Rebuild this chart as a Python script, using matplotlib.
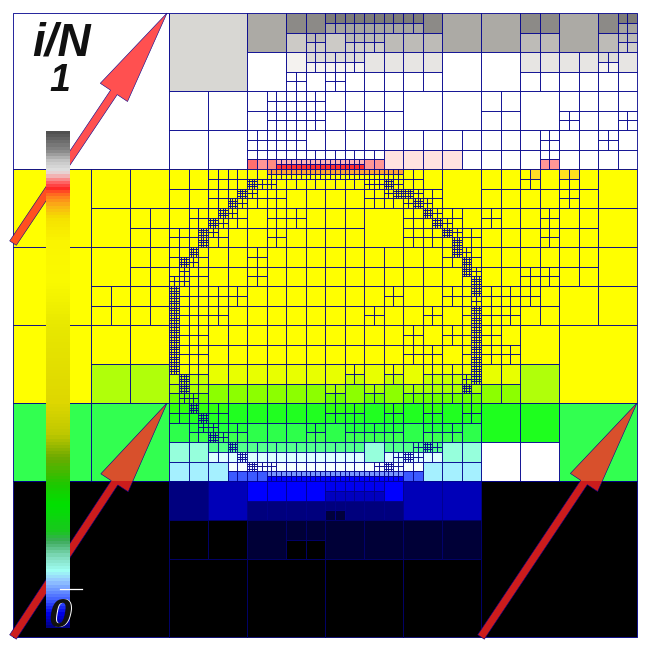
import matplotlib
matplotlib.use("Agg")
import matplotlib.pyplot as plt
from matplotlib.collections import PatchCollection
from matplotlib.colors import LinearSegmentedColormap
from matplotlib.patches import FancyArrow, Rectangle
import numpy as np

# leaf size of the mesh on a 32x32 grid
# A=1/4 of domain, B=1/8, C=1/16, D=1/32, E=1/64 (ring cells go finer)
mesh = [
    "AAAAAAAABBBBCCDDEEEEEDCCCCDDCCDE",
    "AAAAAAAABBBBCCDEDEEDDDCCCCDDCCDE",
    "AAAAAAAABBBBCCDEEEDDDDCCCCDDDDED",
    "AAAAAAAABBBBCCEDEDDDDDCCCCDDDDDD",
    "AAAAAAAACCCCDEEEDDDDCCCCDDCCDDDD",
    "AAAAAAAACCCCDEEEDDDDCCCCDDCCEDDE",
    "AAAAAAAACCCCEEEDDDDDDDDDDDDEDDED",
    "AAAAAAAACCCCEEEEEEEDDDDDDDDEDDDD",
    "BBBBCCCCDDEEEEEEEEEEEDCCDDEDEDCC",
    "BBBBCCCCDDEEEEDDDDEEEECCDDDDEDCC",
    "BBBBCCDDDEEEDEEDDDCCEEEDEDDEDDCC",
    "BBBBCCDDEEEDDEDDDDCCEEEEDDDEDDCC",
    "BBBBCCDDEEDDEDDDDDDDDDEEDDDDDDCC",
    "BBBBCCDDEEDDEDDDDDDDDDDEDDEEDDCC",
    "BBBBDDDDEEEEDDDDDDDEDDEEEEEDCCCC",
    "BBBBDDDDEEEDDDDDDDEDDEDEEEDDCCCC",
    "BBBBCCCCEEDDDDDDDDDDEDEEEDCCBBBB",
    "BBBBCCCCEEDDDDDDDDDDEEDEEECCBBBB",
    "BBBBCCCCEEDDDDDDDEDEDEEEDDCCBBBB",
    "BBBBCCCCEEDDDDDDEDEDEEEEDDCCBBBB",
    "BBBBBBBBEEEDDDDDEEDEDEDECCCCBBBB",
    "BBBBBBBBDEEEDDDEDEEEDEEDCCCCBBBB",
    "BBBBBBBBDDEEEEEEEEDEEEDDCCCCBBBB",
    "BBBBBBBBDDDEEEEEEEEEEDDDCCCCBBBB",
    "AAAAAAAACCCCDDDDEEEDCCCCAAAAAAAA",
    "AAAAAAAACCCCDDDDEDDDCCCCAAAAAAAA",
    "AAAAAAAACCCCCCDDCCCCCCCCAAAAAAAA",
    "AAAAAAAACCCCCCDDCCCCCCCCAAAAAAAA",
    "AAAAAAAABBBBBBBBBBBBBBBBAAAAAAAA",
    "AAAAAAAABBBBBBBBBBBBBBBBAAAAAAAA",
    "AAAAAAAABBBBBBBBBBBBBBBBAAAAAAAA",
    "AAAAAAAABBBBBBBBBBBBBBBBAAAAAAAA",
]

# 1/64 cells around the interface that are split again: row, first col, last col
ring_row = [15, 16, 17, 17, 18, 18, 19, 19, 20, 20, 21, 21, 22, 22, 23, 23, 24, 24, 25, 25,
            26, 26, 27, 27, 28, 28, 29, 29, 30, 30, 31, 31, 32, 32, 33, 33, 34, 34, 35, 35,
            36, 36, 37, 37, 38, 38, 39, 40, 41, 42, 43, 44, 44, 45, 45, 46, 46, 47]
ring_from = [27, 26, 24, 36, 23, 38, 22, 40, 21, 42, 20, 43, 19, 44, 19, 45, 18, 45, 17, 46,
             17, 46, 16, 47, 16, 47, 16, 47, 16, 47, 16, 47, 16, 47, 16, 47, 16, 47, 16, 47,
             16, 47, 17, 46, 17, 46, 17, 18, 19, 19, 20, 22, 41, 23, 39, 24, 37, 26]
ring_to = [35, 39, 26, 39, 24, 41, 23, 42, 22, 43, 21, 44, 20, 45, 19, 45, 18, 46, 18, 46,
           17, 47, 17, 47, 16, 47, 16, 47, 16, 47, 16, 47, 16, 47, 16, 47, 16, 47, 16, 47,
           16, 47, 17, 47, 17, 46, 18, 18, 19, 20, 21, 22, 43, 23, 41, 26, 39, 39]

# ring cells that reach the finest level: col, row
finest_col = [16, 16, 16, 16, 16, 16, 16, 16, 16, 47, 47, 47, 47, 47, 47, 47, 47, 22, 20, 19, 18, 40, 44, 46, 47, 47,
              24, 23, 21, 19, 17, 17, 17, 18, 19, 20, 22, 23, 24, 38, 39, 41, 42, 43, 45, 45, 46, 46, 42, 40, 38]
finest_row = [28, 29, 30, 32, 33, 34, 35, 36, 31, 30, 31, 32, 33, 34, 35, 36, 37, 19, 21, 23, 24, 18, 22, 25, 27, 28,
              17, 18, 20, 22, 25, 37, 38, 40, 41, 43, 44, 45, 46, 17, 18, 19, 20, 21, 23, 24, 26, 38, 44, 45, 46]

# colour of a cell by its size and row
row_l2 = ["#ffffff", "#ffff00", "#ffff00", "#000000"]
row_l3 = ["#d8d7d3", "#ffffff", "#ffff00", "#ffff00", "#ffff00", "#32ff50", "#000000", "#000000"]
row_l4 = ["#acaaa5", "#ffffff", "#ffffff", "#ffffff", "#ffff00", "#ffff00", "#ffff00", "#ffff00",
          "#ffff00", "#b0ff0a", "#1eff1e", "#ffffff", "#0000b8", "#000037", "#000000", "#000000"]
row_l5 = ["#8c8a87", "#bdbbb7", "#e7e5e3", "#ffffff", "#ffffff", "#ffffff", "#ffffff", "#ffe2e0",
          "#ffff00", "#ffff00", "#ffff00", "#ffff00", "#ffff00", "#ffff00", "#ffff00", "#ffff00",
          "#ffff00", "#ffff00", "#e8ff00", "#8cff00", "#20ff20", "#2dff4b", "#96ffdc", "#a5f0ff",
          "#0000ff", "#00007d", "#000037", "#000000", "#000000", "#000000", "#000000", "#000000"]
row_l6 = ["#7d7b78", "#a6a4a0", "#bcbab6", "#cfcdc9", "#dedcd9", "#f5f3f0", "#ffffff", "#ffffff",
          "#ffffff", "#ffffff", "#ffffff", "#ffffff", "#ffffff", "#ffffff", "#ffffff", "#ff9696",
          "#ffff00", "#ffff00", "#ffff00", "#ffff00", "#ffff00", "#ffff00", "#ffff00", "#ffff00",
          "#ffff00", "#ffff00", "#ffff00", "#ffff00", "#ffff00", "#ffff00", "#ffff00", "#ffff00",
          "#ffff00", "#ffff00", "#ffff00", "#ffff00", "#f0ff00", "#c8ff00", "#aaff00", "#6eff00",
          "#32ff0f", "#23ff23", "#23ff3c", "#3cff50", "#55ff8c", "#dcffff", "#f5ffff", "#3c5aff",
          "#0000f0", "#0000c0", "#00007d", "#00007d", "#000037", "#000037", "#000000", "#000000",
          "#000000", "#000000", "#000000", "#000000", "#000000", "#000000", "#000000", "#000000"]
# half rows of the thin top and bottom bands of the ring
row_l7 = {30: "#ffb4b4", 31: "#ff3232", 32: "#ffa532", 94: "#7896ff", 95: "#0000ff"}

# single cells that differ from their row: (size letter, col, row)
cell_colors = {
    ("C", 8, 24): "#00007f", ("C", 8, 26): "#000000", ("C", 10, 26): "#000000",
    ("D", 14, 2): "#f4f2ef", ("D", 14, 1): "#cccac6", ("D", 16, 1): "#cccac6",
    ("E", 24, 15): "#ff6e6e", ("E", 26, 15): "#ff8c82", ("E", 53, 16): "#ffdc28",
    ("E", 56, 16): "#ffe01e", ("E", 57, 16): "#ffe01e",
    ("E", 32, 51): "#00003c", ("E", 33, 51): "#00003c",
}
for col in range(23, 32):
    cell_colors[("D", col, 7)] = "#ffffff"

# colour bar, top to bottom: pixel row and colour
bar_pos = [131, 150, 160, 170, 174, 180, 187, 195, 205, 217, 240, 280, 325, 403, 435, 458,
           485, 505, 532, 542, 558, 572, 582, 602, 615, 628]
bar_rgb = ["#505050", "#8c8c8c", "#c8c8c8", "#e1e1e1", "#f0bebe", "#ff6e6e", "#ff2828", "#ff7a1e",
           "#fab414", "#f5e100", "#faf500", "#fafa00", "#e8e800", "#ded700", "#bec800", "#6eaa00",
           "#1ec800", "#00e100", "#19c81e", "#3caa5a", "#82dcbe", "#a0fff5", "#96c8ff", "#3c5aff",
           "#0000e6", "#000082"]

# arrows in mesh units
arrow_x0 = [0.0, 0.0, 24.0]
arrow_y0 = [11.8, 32.0, 32.0]
arrow_x1 = [7.9, 7.9, 32.0]
arrow_y1 = [0.0, 20.0, 20.0]
arrow_split = [8, 24, 24]
arrow_upper = ["#ff5050", "#d8502c", "#d8502c"]
arrow_lower = ["#ff5020", "#cc1c1c", "#cc1c1c"]

ring = set()
for s, t0, t1 in zip(ring_row, ring_from, ring_to):
    for t in range(t0, t1 + 1):
        ring.add((t, s))
finest = set(zip(finest_col, finest_row))

rects = []
colors = []
edges = []


def add_cell(x, y, size, color):
    rects.append(Rectangle((x, y), size, size))
    colors.append(color)
    # lines fade out over the black part of the mesh
    edges.append("#000070" if y >= 26 else "#00008c")


def add_small(t, s):
    # one 1/64 cell, maybe split down to the finest level
    key = ("E", t, s)
    if (t, s) not in ring:
        add_cell(t / 2, s / 2, 0.5, cell_colors.get(key, row_l6[s]))
        return
    for j in range(2):
        for i in range(2):
            half = s * 2 + j
            color = row_l7.get(half, row_l6[s])
            if (t, s) in finest:
                for jj in range(2):
                    for ii in range(2):
                        add_cell(t / 2 + i / 4 + ii / 8, s / 2 + j / 4 + jj / 8, 0.125, color)
            else:
                add_cell(t / 2 + i / 4, s / 2 + j / 4, 0.25, color)


for r, line in enumerate(mesh):
    for c, leaf in enumerate(line):
        if leaf == "A" and r % 8 == 0 and c % 8 == 0:
            add_cell(c, r, 8, row_l2[r // 8])
        elif leaf == "B" and r % 4 == 0 and c % 4 == 0:
            add_cell(c, r, 4, row_l3[r // 4])
        elif leaf == "C" and r % 2 == 0 and c % 2 == 0:
            add_cell(c, r, 2, cell_colors.get(("C", c, r), row_l4[r // 2]))
        elif leaf == "D":
            inside = [(c * 2 + i, r * 2 + j) for i in range(2) for j in range(2)]
            if any(p in ring for p in inside):
                for t, s in inside:
                    add_small(t, s)
            else:
                add_cell(c, r, 1, cell_colors.get(("D", c, r), row_l5[r]))
        elif leaf == "E":
            for j in range(2):
                for i in range(2):
                    add_small(c * 2 + i, r * 2 + j)

fig = plt.figure(figsize=(6.5, 6.48), dpi=100)
ax = fig.add_axes([13 / 650, 1 - 637 / 648, 624 / 650, 624 / 648])
ax.set_xlim(0, 32)
ax.set_ylim(32, 0)
ax.axis("off")

cells = PatchCollection(rects, facecolors=colors, edgecolors=edges, linewidths=0.6,
                        antialiaseds=True, clip_on=False, zorder=1)
ax.add_collection(cells)

for x0, y0, x1, y1, split, upper, lower in zip(arrow_x0, arrow_y0, arrow_x1, arrow_y1,
                                               arrow_split, arrow_upper, arrow_lower):
    for color, top, height in [(upper, -2, split + 2), (lower, split, 36 - split)]:
        arrow = FancyArrow(x0, y0, x1 - x0, y1 - y0, width=0.41, head_width=1.68, head_length=4.9,
                           length_includes_head=True, facecolor=color, edgecolor="#00008c",
                           linewidth=0.4, clip_on=True, zorder=2)
        ax.add_patch(arrow)
        arrow.set_clip_path(Rectangle((-2, top), 36, height, transform=ax.transData))

# overlay in pixel coordinates for the colour bar and its labels
over = fig.add_axes([0, 0, 1, 1], facecolor="none")
over.axis("off")
stops = (np.array(bar_pos) - bar_pos[0]) / (bar_pos[-1] - bar_pos[0])
bar_cmap = LinearSegmentedColormap.from_list("bar", list(zip(stops, bar_rgb)), N=160)
over.imshow(np.linspace(0, 1, 160).reshape(-1, 1), cmap=bar_cmap, aspect="auto",
            extent=(46, 70, bar_pos[-1], bar_pos[0]), interpolation="nearest", zorder=3)
over.set_xlim(0, 650)
over.set_ylim(648, 0)
over.plot([60, 82], [589, 589], color="white", lw=0.9, zorder=4)

font = dict(family="Liberation Sans", weight="bold", style="italic", ha="center", va="center")
over.text(62, 43, "i/N", fontsize=33, color="#111111", zorder=5, **font)
over.text(60, 81, "1", fontsize=27, color="#111111", zorder=5, **font)
over.text(60.7, 616, "0", fontsize=29, color="white", zorder=5, **font)
over.text(59.5, 616, "0", fontsize=29, color="#111111", zorder=6, **font)

fig.savefig("out.png", dpi=100, facecolor="white")
